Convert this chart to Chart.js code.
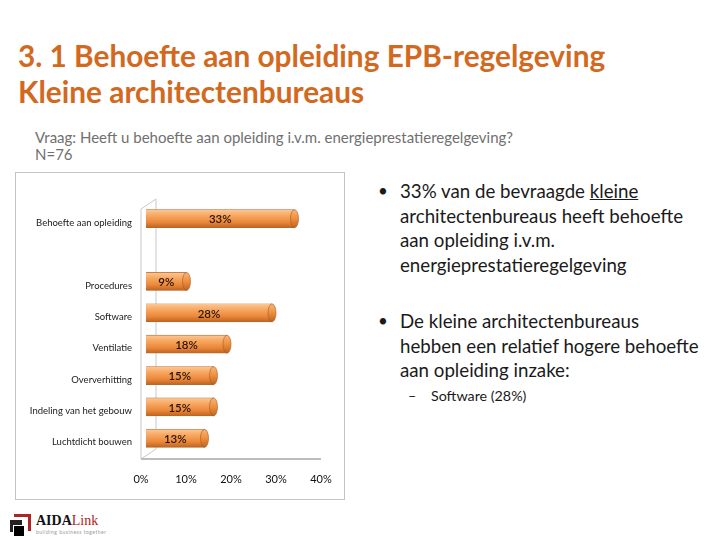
<!DOCTYPE html>
<html>
<head>
<meta charset="utf-8">
<script src="https://cdn.jsdelivr.net/npm/chart.js@4"></script>
<style>
  html, body { margin: 0; padding: 0; background: #fff; }
  body { width: 720px; height: 540px; position: relative; overflow: hidden; font-family: Lato, 'Open Sans', sans-serif; }
  #title { position: absolute; left: 18px; top: 38px; color: #d2691e; font-weight: bold; font-size: 29.8px; line-height: 36px; }
  #question { position: absolute; left: 35px; top: 129px; color: #707070; font-size: 15px; line-height: 17px; }
  #box { position: absolute; left: 15px; top: 172px; width: 330px; height: 328px; border: 1px solid #c4c4c4; box-sizing: border-box; }
  #box canvas { position: absolute; left: 0; top: 0; }
  .bullets { position: absolute; left: 378px; font-size: 18.7px; line-height: 24.5px; color: #1a1a1a; }
  .bullets .dot { position: absolute; left: 0; top: 0; font-size: 17px; }
  .bullets .txt { margin-left: 22px; white-space: nowrap; }
  #b1 { top: 179px; }
  #b2 { top: 309px; }
  #sub { position: absolute; left: 408px; top: 387px; font-size: 14.3px; color: #1a1a1a; }
  #logo { position: absolute; left: 10px; top: 512px; width: 100px; height: 26px; }
</style>
</head>
<body>
<div id="title">3. 1 Behoefte aan opleiding EPB-regelgeving<br>Kleine architectenbureaus</div>
<div id="question">Vraag: Heeft u behoefte aan opleiding i.v.m. energieprestatieregelgeving?<br>N=76</div>
<div id="box"><canvas id="chart" width="330" height="328"></canvas></div>
<div class="bullets" id="b1"><span class="dot">•</span><div class="txt">33% van de bevraagde <u>kleine</u><br>architectenbureaus heeft behoefte<br>aan opleiding i.v.m.<br>energieprestatieregelgeving</div></div>
<div class="bullets" id="b2"><span class="dot">•</span><div class="txt">De kleine architectenbureaus<br>hebben een relatief hogere behoefte<br>aan opleiding inzake:</div></div>
<div id="sub">–&nbsp;&nbsp;&nbsp;&nbsp;Software (28%)</div>
<div id="logo">
  <div style="position:absolute;left:4px;top:2px;width:14px;height:14px;border:3px solid #b22222;border-left:none;border-bottom:none;"></div>
  <div style="position:absolute;left:0;top:8px;width:12px;height:12px;background:#222;"></div>
  <div style="position:absolute;left:3px;top:13px;width:10px;height:10px;background:#000;border:1px solid #fff;"></div>
  <div style="position:absolute;left:26px;top:1px;font-family:'Liberation Serif',serif;font-size:14px;font-weight:bold;color:#111;">AIDA<span style="font-weight:normal;color:#b22222;">Link</span></div>
  <div style="position:absolute;left:26px;top:17px;font-size:5px;color:#999;letter-spacing:0.5px;">building business together</div>
</div>
<script>
'use strict';

const CATEGORIES = [
  'Behoefte aan opleiding',
  '',
  'Procedures',
  'Software',
  'Ventilatie',
  'Oververhitting',
  'Indeling van het gebouw',
  'Luchtdicht bouwen'
];
const VALUES = [33, null, 9, 28, 18, 15, 15, 13];
const X_TICKS = [0, 10, 20, 30, 40];

const wallPlugin = {
  id: 'wall',
  beforeDatasetsDraw(chart) {
    const c = chart.ctx;
    const a = chart.chartArea;
    const x0 = a.left - 5, x1 = a.left + 10;
    const yTop = a.top + 6, yBot = a.bottom + 5;
    c.save();
    c.strokeStyle = '#c8c8c8';
    c.lineWidth = 1;
    c.beginPath();
    c.moveTo(x0, yBot); c.lineTo(x0, yTop); c.lineTo(x1, yTop - 10);
    c.lineTo(x1, yBot - 10); c.lineTo(x0, yBot);
    c.stroke();
    c.strokeStyle = '#bdbdbd';
    c.lineWidth = 2;
    c.beginPath();
    c.moveTo(x0, yBot); c.lineTo(a.right - 5, yBot);
    c.stroke();
    c.restore();
  },
  afterDatasetsDraw(chart) {
    const c = chart.ctx;
    const meta = chart.getDatasetMeta(0);
    c.save();
    meta.data.forEach((bar, i) => {
      const v = VALUES[i];
      if (v == null) return;
      const h = bar.height;
      // cylinder end cap
      c.beginPath();
      c.ellipse(bar.x, bar.y, 4, h / 2, 0, 0, Math.PI * 2);
      const g = c.createLinearGradient(0, bar.y - h / 2, 0, bar.y + h / 2);
      g.addColorStop(0, '#f9b577');
      g.addColorStop(0.5, '#ee8f3d');
      g.addColorStop(1, '#bb6421');
      c.fillStyle = g;
      c.fill();
      c.strokeStyle = '#a85a22';
      c.lineWidth = 0.6;
      c.stroke();
      // value label
      c.fillStyle = '#2a1205';
      c.font = '600 11.5px Lato, sans-serif';
      c.textAlign = 'center';
      c.textBaseline = 'middle';
      c.fillText(v + '%', (bar.base + bar.x) / 2, bar.y + 1);
    });
    c.restore();
  }
};

function cylinderFill(ctx) {
  const chart = ctx.chart;
  const y = chart.scales.y;
  if (!chart.chartArea || !y) return '#ee9447';
  const cy = y.getPixelForValue(ctx.dataIndex);
  const g = chart.ctx.createLinearGradient(0, cy - 9, 0, cy + 9);
  g.addColorStop(0, '#fbc898');
  g.addColorStop(0.3, '#f8a962');
  g.addColorStop(0.7, '#ea873a');
  g.addColorStop(1, '#bd6420');
  return g;
}

new Chart(document.getElementById('chart'), {
  type: 'bar',
  data: {
    labels: CATEGORIES,
    datasets: [{
      data: VALUES,
      backgroundColor: cylinderFill,
      borderColor: '#b5682c',
      borderWidth: 0.6,
      barThickness: 18
    }]
  },
  options: {
    indexAxis: 'y',
    responsive: false,
    animation: false,
    layout: { padding: { top: 30, right: 20, left: 0, bottom: 0 } },
    plugins: { legend: { display: false }, tooltip: { enabled: false } },
    scales: {
      x: {
        min: 0,
        max: 40,
        afterFit: s => { s.height = 47; s.paddingLeft = 0; s.paddingRight = 0; },
        afterBuildTicks: s => { s.ticks = X_TICKS.map(v => ({ value: v })); },
        grid: { display: false, drawTicks: false },
        border: { display: false },
        ticks: {
          padding: 19,
          labelOffset: -5,
          color: '#111',
          font: { size: 11, family: 'Lato, sans-serif' },
          callback: v => v + '%'
        }
      },
      y: {
        afterFit: s => { s.width = 130; s.paddingTop = 0; s.paddingBottom = 0; },
        grid: { display: false, drawTicks: false },
        border: { display: false },
        ticks: {
          padding: 14,
          labelOffset: 4,
          color: '#1a1a1a',
          font: { size: 9.5, family: 'Lato, sans-serif' }
        }
      }
    }
  },
  plugins: [wallPlugin]
});
</script>
</body>
</html>
